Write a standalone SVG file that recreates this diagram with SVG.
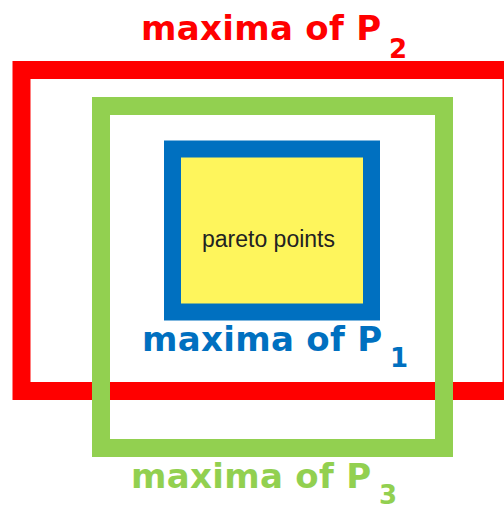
<svg xmlns="http://www.w3.org/2000/svg" width="504" height="505" viewBox="0 0 504 505">
<style>
.box{fill:none}
.title{font-family:"DejaVu Sans","Verdana",sans-serif;font-weight:bold;font-size:34px;letter-spacing:0.3px}
.sub{font-size:26px;letter-spacing:0}
.lbl{font-family:"Liberation Sans",Arial,sans-serif;font-size:23px;fill:#222}
</style>
<rect width="504" height="505" fill="#fff"/>
<g id="p2">
<rect class="box" x="21.5" y="70" width="490" height="321" stroke="#FF0000" stroke-width="18"/>
<text class="title" x="141" y="40" fill="#FF0000">maxima of P<tspan class="sub" x="389" y="58">2</tspan></text>
</g>
<g id="p3">
<rect class="box" x="101" y="106" width="343" height="342" stroke="#92D050" stroke-width="18"/>
<text class="title" x="131" y="488" fill="#92D050">maxima of P<tspan class="sub" x="379" y="504">3</tspan></text>
</g>
<g id="p1">
<rect x="172.5" y="149" width="199" height="163" fill="#FEF55C" stroke="#0070C0" stroke-width="17"/>
<text class="title" x="142" y="351" fill="#0070C0">maxima of P<tspan class="sub" x="390" y="367">1</tspan></text>
</g>
<g id="pareto">
<text class="lbl" x="202" y="246.5">pareto points</text>
</g>
<g id="connectors"/>
</svg>
